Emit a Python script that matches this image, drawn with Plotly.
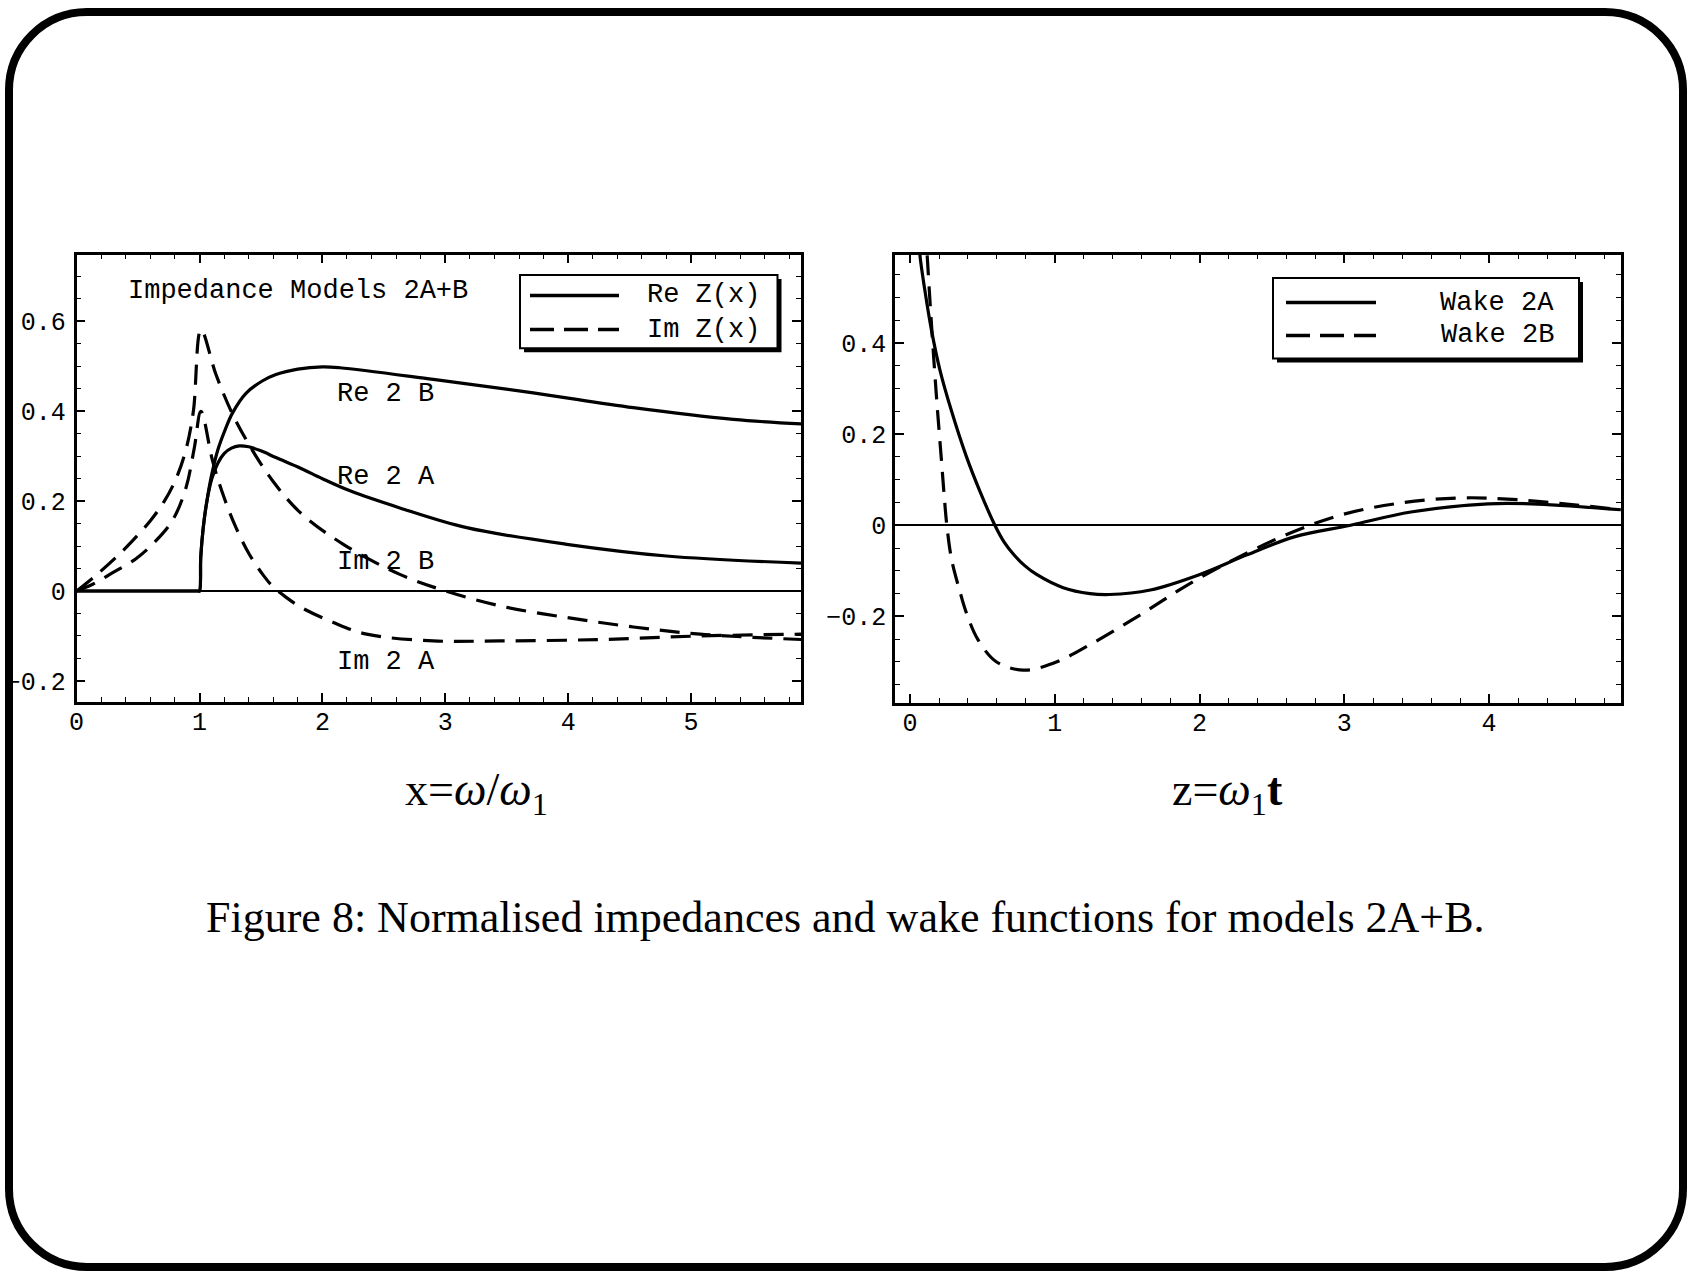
import plotly.graph_objects as go

# ---------------- data ----------------
# Left panel: impedance models, x = omega/omega_1
re2a_x = [0, 0.99, 1.0, 1.01, 1.03, 1.06, 1.1, 1.15, 1.2, 1.26, 1.324, 1.4, 1.5, 1.622, 1.818,
          2.0, 2.225, 2.63, 3.174, 3.988, 4.8, 5.9]
re2a_y = [0, 0, 0, 0.075, 0.14, 0.2, 0.25, 0.285, 0.306, 0.318, 0.323, 0.321, 0.312, 0.297, 0.274,
          0.25, 0.223, 0.185, 0.141, 0.104, 0.078, 0.062]

re2b_x = [0, 0.99, 1.0, 1.01, 1.03, 1.06, 1.1, 1.15, 1.21, 1.27, 1.378, 1.514, 1.622,
          1.8, 2.0, 2.143, 2.902, 3.716, 4.53, 5.343, 5.9]
re2b_y = [0, 0, 0, 0.075, 0.14, 0.2, 0.26, 0.315, 0.36, 0.397, 0.44, 0.468, 0.482,
          0.494, 0.499, 0.497, 0.471, 0.441, 0.408, 0.382, 0.372]

im2b_x = [0, 0.158, 0.321, 0.456, 0.605, 0.714, 0.809, 0.89, 0.95, 1.012, 1.134, 1.27,
          1.433, 1.596, 1.818, 2.17, 2.63, 2.984, 3.445, 3.988, 4.53, 5.073, 5.9]
im2b_y = [0, 0.035, 0.075, 0.112, 0.158, 0.2, 0.25, 0.315, 0.40, 0.582, 0.482, 0.393,
          0.312, 0.245, 0.175, 0.104, 0.037, 0.0016, -0.033, -0.059, -0.08, -0.096, -0.108]

im2a_x = [0, 0.131, 0.294, 0.483, 0.646, 0.782, 0.89, 0.958, 1.012, 1.107, 1.2, 1.297,
          1.405, 1.514, 1.596, 1.7, 1.818, 2.089, 2.36, 2.902, 3.445, 4.26, 5.073, 5.9]
im2a_y = [0, 0.015, 0.041, 0.072, 0.112, 0.158, 0.23, 0.319, 0.4, 0.289, 0.208, 0.141,
          0.082, 0.037, 0.01, -0.013, -0.035, -0.07, -0.096, -0.111, -0.111, -0.108, -0.1, -0.096]

# Right panel: wake functions, z = omega_1 t
wake2a_x = [0.06, 0.068, 0.102, 0.148, 0.206, 0.287, 0.39, 0.482, 0.586, 0.65, 0.713, 0.79,
            0.874, 1.058, 1.243, 1.377, 1.66, 1.993, 2.327, 2.66, 3.043, 3.46, 3.993, 4.293, 4.91]
wake2a_y = [0.64, 0.593, 0.516, 0.428, 0.341, 0.25, 0.15, 0.075, 0.0, -0.037, -0.063, -0.088,
            -0.108, -0.137, -0.15, -0.152, -0.142, -0.109, -0.065, -0.025, 0.0, 0.029, 0.047, 0.047, 0.034]

wake2b_x = [0.105, 0.118, 0.14, 0.165, 0.19, 0.215, 0.235, 0.254, 0.287, 0.344, 0.39, 0.471,
            0.598, 0.782, 0.989, 1.243, 1.593, 1.927, 2.277, 2.627, 2.993, 3.393, 3.81, 4.193, 4.91]
wake2b_y = [0.66, 0.593, 0.48, 0.36, 0.25, 0.15, 0.068, 0.0, -0.075, -0.145, -0.193, -0.252,
            -0.3, -0.318, -0.303, -0.262, -0.196, -0.129, -0.069, -0.017, 0.024, 0.049, 0.06, 0.056, 0.034]

left_labels = ["Re 2 B", "Re 2 A", "Im 2 B", "Im 2 A"]
left_label_x = [2.106, 2.106, 2.106, 2.106]
left_label_y = [0.439, 0.254, 0.065, -0.158]
left_title = "Impedance Models 2A+B"
left_legend = ["Re Z(x)", "Im Z(x)"]
right_legend = ["Wake 2A", "Wake 2B"]
caption = "Figure 8: Normalised impedances and wake functions for models 2A+B."

# ---------------- layout helpers ----------------
W, H = 1691, 1278
def px(x):
    return x / W
def py(y):
    return 1 - y / H

MONO = "Liberation Mono, Courier New, monospace"
SERIF = "Liberation Serif, Times New Roman, serif"
LW = 3.2
DASH = "20px,11px"

fig = go.Figure()

def add_line(x, y, xa, ya, dash=None):
    fig.add_trace(go.Scatter(
        x=x, y=y, xaxis=xa, yaxis=ya, mode="lines",
        line=dict(color="black", width=LW, dash=dash, shape="spline", smoothing=1.0),
        showlegend=False, hoverinfo="skip"))

add_line(re2b_x, re2b_y, "x", "y")
add_line(re2a_x, re2a_y, "x", "y")
add_line(im2b_x, im2b_y, "x", "y", DASH)
add_line(im2a_x, im2a_y, "x", "y", DASH)
add_line(wake2a_x, wake2a_y, "x2", "y2")
add_line(wake2b_x, wake2b_y, "x2", "y2", DASH)

def minor(dt):
    return dict(ticks="inside", dtick=dt, tick0=0, ticklen=5,
                tickwidth=1.2, tickcolor="black", showgrid=False)

def axis_common(**kw):
    d = dict(showline=True, linewidth=2.5, linecolor="black", mirror="allticks",
             ticks="inside", ticklen=9, tickwidth=1.5, tickcolor="black",
             showgrid=False, zeroline=False, automargin=False,
             tickfont=dict(family=MONO, size=25, color="black"))
    d.update(kw)
    return d

fig.update_layout(
    width=W, height=H, margin=dict(l=0, r=0, t=0, b=0, autoexpand=False),
    paper_bgcolor="white", plot_bgcolor="white",
    xaxis=axis_common(domain=[px(76.6), px(801)], range=[0, 5.894],
                      tickmode="linear", tick0=0, dtick=1, anchor="y",
                      ticklabelstandoff=-5, minor=minor(0.2)),
    yaxis=axis_common(domain=[py(702), py(254.5)], range=[-0.247, 0.749],
                      tickmode="linear", tick0=0, dtick=0.2, anchor="x",
                      zeroline=True, zerolinewidth=1.5, zerolinecolor="black",
                      ticklabelstandoff=3, minor=minor(0.05)),
    xaxis2=axis_common(domain=[px(895), px(1621)], range=[-0.104, 4.911],
                       tickmode="linear", tick0=0, dtick=1, anchor="y2",
                       ticklabelstandoff=-5, minor=minor(0.2)),
    yaxis2=axis_common(domain=[py(703), py(254.5)], range=[-0.39, 0.594],
                       tickmode="linear", tick0=0, dtick=0.2, anchor="x2",
                       zeroline=True, zerolinewidth=1.5, zerolinecolor="black",
                       ticklabelstandoff=1, minor=minor(0.05)),
)

shapes = []
annotations = []

# rounded page border
x0, x1 = px(9), px(1683)
yt, yb = py(12), py(1267)
rx, ry = 78 / W, 78 / H
k = 0.5523
path = (
    f"M {x0+rx},{yt} L {x1-rx},{yt} "
    f"C {x1-rx+k*rx},{yt} {x1},{yt-ry+k*ry} {x1},{yt-ry} "
    f"L {x1},{yb+ry} "
    f"C {x1},{yb+ry-k*ry} {x1-rx+k*rx},{yb} {x1-rx},{yb} "
    f"L {x0+rx},{yb} "
    f"C {x0+rx-k*rx},{yb} {x0},{yb+ry-k*ry} {x0},{yb+ry} "
    f"L {x0},{yt-ry} "
    f"C {x0},{yt-ry+k*ry} {x0+rx-k*rx},{yt} {x0+rx},{yt} Z"
)
shapes.append(dict(type="path", xref="paper", yref="paper", path=path,
                   line=dict(color="black", width=8), fillcolor="rgba(0,0,0,0)"))

def legend_box(bx0, by0, bx1, by1, lx0, lx1, ly, texts, tx):
    shapes.append(dict(type="rect", xref="paper", yref="paper",
                       x0=px(bx0 + 4), x1=px(bx1 + 4), y0=py(by1 + 4), y1=py(by0 + 4),
                       line=dict(width=0), fillcolor="black"))
    shapes.append(dict(type="rect", xref="paper", yref="paper",
                       x0=px(bx0), x1=px(bx1), y0=py(by1), y1=py(by0),
                       line=dict(color="black", width=2), fillcolor="white"))
    for i, (yy, t) in enumerate(zip(ly, texts)):
        shapes.append(dict(type="line", xref="paper", yref="paper",
                           x0=px(lx0), x1=px(lx1), y0=py(yy), y1=py(yy),
                           line=dict(color="black", width=3.5,
                                     dash=None if i == 0 else "24px,10px")))
        annotations.append(dict(xref="paper", yref="paper", x=px(tx), y=py(yy),
                                xanchor="right", yanchor="middle", showarrow=False,
                                text=t, font=dict(family=MONO, size=27, color="black")))

legend_box(520, 275, 777.5, 348.3, 530, 619, [295.5, 329.5], left_legend, 762)
legend_box(1273, 278, 1579, 358.5, 1286, 1376, [302.5, 335.5], right_legend, 1556)

# in-plot labels
annotations.append(dict(xref="x", yref="y", x=0.404, y=0.667, xanchor="left",
                        yanchor="middle", showarrow=False, text=left_title,
                        font=dict(family=MONO, size=27, color="black")))
for t, lx, ly in zip(left_labels, left_label_x, left_label_y):
    annotations.append(dict(xref="x", yref="y", x=lx, y=ly, xanchor="left",
                            yanchor="middle", showarrow=False, text=t,
                            font=dict(family=MONO, size=27, color="black")))

# axis titles and caption
annotations.append(dict(xref="paper", yref="paper", x=px(476), y=py(793),
                        xanchor="center", yanchor="middle", showarrow=False,
                        text="x=<i>ω</i>/<i>ω</i><sub>1</sub>",
                        font=dict(family=SERIF, size=46, color="black")))
annotations.append(dict(xref="paper", yref="paper", x=px(1227), y=py(793),
                        xanchor="center", yanchor="middle", showarrow=False,
                        text="z=<i>ω</i><sub>1</sub><b>t</b>",
                        font=dict(family=SERIF, size=46, color="black")))
annotations.append(dict(xref="paper", yref="paper", x=px(845), y=py(917),
                        xanchor="center", yanchor="middle", showarrow=False,
                        text=caption,
                        font=dict(family=SERIF, size=44, color="black")))

fig.update_layout(shapes=shapes, annotations=annotations)
fig.write_html("out.html")
